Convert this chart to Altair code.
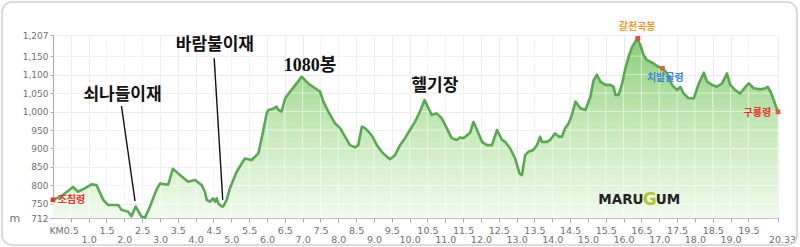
import altair as alt
import pandas as pd

# ---- elevation profile (km, m) ----
KM = [0.00, 0.25, 0.56, 0.70, 0.89, 1.08, 1.22, 1.41, 1.55, 1.83, 1.92, 2.11, 2.20, 2.32, 2.48, 2.58,
      2.72, 2.90, 3.00, 3.23, 3.36, 3.56, 3.79, 3.98, 4.17, 4.26, 4.31, 4.40, 4.49, 4.54, 4.59, 4.63,
      4.73, 4.77, 4.87, 4.96, 5.15, 5.38, 5.57, 5.76, 5.90, 5.99, 6.04, 6.13, 6.27, 6.32, 6.41, 6.51,
      6.65, 6.83, 6.97, 7.11, 7.21, 7.35, 7.49, 7.58, 7.72, 7.91, 8.05, 8.19, 8.33, 8.47, 8.56, 8.66,
      8.75, 8.89, 8.98, 9.08, 9.22, 9.36, 9.45, 9.59, 9.73, 9.87, 10.01, 10.15, 10.29, 10.42, 10.53,
      10.62, 10.76, 10.90, 11.04, 11.18, 11.32, 11.42, 11.51, 11.61, 11.70, 11.79, 11.89, 12.03, 12.17,
      12.31, 12.45, 12.59, 12.68, 12.82, 12.96, 13.08, 13.15, 13.24, 13.33, 13.47, 13.57, 13.66, 13.71,
      13.85, 13.94, 14.08, 14.18, 14.27, 14.36, 14.46, 14.55, 14.65, 14.79, 14.93, 15.07, 15.16, 15.25,
      15.35, 15.49, 15.63, 15.72, 15.77, 15.86, 15.96, 16.05, 16.14, 16.24, 16.38, 16.47, 16.56, 16.66,
      16.84, 16.98, 17.09, 17.22, 17.36, 17.50, 17.59, 17.68, 17.82, 17.97, 18.11, 18.25, 18.34, 18.48,
      18.62, 18.76, 18.90, 18.99, 19.13, 19.27, 19.42, 19.51, 19.65, 19.84, 19.98, 20.04, 20.12, 20.21,
      20.31, 20.33]
ELEV = [761, 772, 796, 783, 792, 803, 801, 761, 747, 747, 734, 729, 717, 743, 716, 713,
        743, 788, 805, 802, 845, 828, 810, 815, 801, 783, 761, 756, 765, 756, 765, 752,
        743, 743, 761, 792, 837, 873, 869, 887, 950, 995, 1004, 1006, 1013, 1004, 1000, 1036,
        1054, 1076, 1094, 1081, 1072, 1063, 1054, 1027, 1000, 968, 955, 932, 909, 903, 909, 959,
        955, 941, 928, 909, 891, 878, 871, 882, 909, 928, 950, 972, 1000, 1031, 1009,
        991, 995, 982, 955, 928, 923, 930, 928, 936, 943, 972, 950, 918, 909,
        909, 950, 923, 918, 900, 873, 833, 828, 882, 891, 896, 909, 932, 918,
        918, 923, 941, 932, 932, 955, 968, 991, 1027, 1009, 1004, 1040, 1085, 1099,
        1081, 1072, 1072, 1067, 1045, 1045, 1076, 1117, 1148, 1175, 1197, 1180, 1153, 1139,
        1130, 1121, 1117, 1103, 1072, 1058, 1067, 1049, 1036, 1036, 1076, 1105, 1081, 1072,
        1067, 1076, 1103, 1072, 1058, 1049, 1067, 1076, 1063, 1060, 1063, 1067, 1054, 1031,
        1004, 999]

# ---- axes ----
X_TICKS = [0.5, 1.0, 1.5, 2.0, 2.5, 3.0, 3.5, 4.0, 4.5, 5.0, 5.5, 6.0, 6.5, 7.0, 7.5, 8.0, 8.5, 9.0,
           9.5, 10.0, 10.5, 11.0, 11.5, 12.0, 12.5, 13.0, 13.5, 14.0, 14.5, 15.0, 15.5, 16.0, 16.5,
           17.0, 17.5, 18.0, 18.5, 19.0, 19.5, 20.33]
Y_TICKS = [712, 750, 800, 850, 900, 950, 1000, 1050, 1100, 1150, 1207]
X_MAX = 20.33

# ---- named places (dot + small coloured label) ----
PLACE_NAME = ["조침령", "갈천곡봉", "치밭골령", "구룡령"]
PLACE_KM = [0.0, 16.40, 17.09, 20.33]
PLACE_ELEV = [761, 1198, 1117, 999]
PLACE_LABEL_KM = [0.13, 16.38, 17.17, 19.75]
PLACE_LABEL_ELEV = [761, 1229, 1091, 996]
PLACE_ALIGN = ["left", "center", "center", "center"]
PLACE_COLOR = ["#e5322b", "#ef9a2e", "#3b86d6", "#e5322b"]
DOT_COLOR = ["#e5322b", "#e0503a", "#e0603a", "#e0603a"]

# ---- big annotations with leader lines ----
BIG_NAME = ["쇠나들이재", "바람불이재", "1080봉", "헬기장"]
BIG_KM = [1.95, 4.54, 7.21, 10.71]
BIG_ELEV = [1045, 1180, 1123, 1069]
BIG_SERIF = [False, False, True, False]
LEAD_KM1 = [1.92, 4.52]
LEAD_ELEV1 = [1015, 1144]
LEAD_KM2 = [2.30, 4.76]
LEAD_ELEV2 = [758, 761]

# ---- logo ----
LOGO_TEXT = ["MARU", "G", "UM"]
LOGO_KM = [16.56, 16.73, 16.90]
LOGO_ELEV = [761, 761, 761]
LOGO_ALIGN = ["right", "center", "left"]
LOGO_COLOR = ["#222222", "#b5c42a", "#222222"]
LOGO_SIZE = [13.5, 17, 13.5]

profile = pd.DataFrame({"km": KM, "elev": ELEV})

xscale = alt.Scale(domain=[0, X_MAX], nice=False, zero=False)
yscale = alt.Scale(domain=[712, 1207], nice=False, zero=False)

lower_row = "abs(datum.value - round(datum.value)) < 0.01 || datum.value > 20.1"

x_axis = alt.Axis(
    values=X_TICKS, title=None, labelOverlap=False, labelFlush=False,
    labelExpr="datum.value > 20.1 ? '20.33' : format(datum.value, '.1f')",
    labelPadding={"condition": {"test": lower_row, "value": 12}, "value": 3},
    labelOffset={"condition": {"test": "datum.value > 20.1", "value": 4}, "value": 0},
    labelFont="DejaVu Sans", labelFontSize=9.5, labelColor="#707070",
    tickSize=4, tickColor="#aaaaaa", domainColor="#aaaaaa",
    grid=True, gridColor="#e9e9e9",
)
y_axis = alt.Axis(
    values=Y_TICKS, format=",d", title="m", titleAngle=0, titleX=-44, titleY=183,
    titleAlign="left", titleBaseline="middle", titleFont="DejaVu Sans", titleFontSize=11,
    titleFontWeight="normal", titleColor="#707070",
    labelFont="DejaVu Sans", labelFontSize=9, labelColor="#707070", labelPadding=2,
    tickSize=3, tickColor="#aaaaaa", domainColor="#aaaaaa",
    grid=True, gridColor="#e9e9e9",
)


def X(field):
    return alt.X(field, scale=xscale, axis=x_axis)


def Y(field):
    return alt.Y(field, scale=yscale, axis=y_axis)


gradient = alt.Gradient(
    gradient="linear",
    stops=[alt.GradientStop(color="#f0faec", offset=0),
           alt.GradientStop(color="#c2e7b5", offset=0.55),
           alt.GradientStop(color="#8ccb7b", offset=1)],
    x1=1, x2=1, y1=1, y2=0,
)

area = alt.Chart(profile).mark_area(color=gradient).encode(
    x=X("km:Q"), y=Y("elev:Q"), y2=alt.datum(712),
)

vgrid = alt.Chart(pd.DataFrame({"km": X_TICKS})).mark_rule(
    color="white", opacity=0.55, strokeWidth=1
).encode(x=X("km:Q"))

hgrid = alt.Chart(pd.DataFrame({"elev": Y_TICKS})).mark_rule(
    color="white", opacity=0.55, strokeWidth=1
).encode(y=Y("elev:Q"))

line = alt.Chart(profile).mark_line(color="#5aa853", strokeWidth=2.6, strokeJoin="round").encode(
    x=X("km:Q"), y=Y("elev:Q"),
)

places = pd.DataFrame({
    "name": PLACE_NAME, "km": PLACE_KM, "elev": PLACE_ELEV,
    "lkm": PLACE_LABEL_KM, "lelev": PLACE_LABEL_ELEV,
    "color": PLACE_COLOR, "dot": DOT_COLOR, "align": PLACE_ALIGN,
})

dots = alt.Chart(places).mark_point(filled=True, size=22, opacity=1, shape="square").encode(
    x=X("km:Q"), y=Y("elev:Q"), color=alt.Color("dot:N", scale=None),
)

place_layers = []
for al in ["left", "center"]:
    place_layers.append(
        alt.Chart(places[places["align"] == al]).mark_text(
            align=al, baseline="middle", font="Noto Sans CJK KR", fontSize=10, fontWeight="bold"
        ).encode(
            x=X("lkm:Q"), y=Y("lelev:Q"),
            text="name:N", color=alt.Color("color:N", scale=None),
        )
    )

big = pd.DataFrame({"name": BIG_NAME, "km": BIG_KM, "elev": BIG_ELEV, "serif": BIG_SERIF})
big_sans = alt.Chart(big[~big["serif"]]).mark_text(
    align="center", baseline="middle", font="Noto Sans CJK KR", fontSize=17, fontWeight="bold",
    color="#111111"
).encode(x=X("km:Q"), y=Y("elev:Q"), text="name:N")
big_serif = alt.Chart(big[big["serif"]]).mark_text(
    align="center", baseline="middle", font="Liberation Serif, Noto Sans CJK KR", fontSize=18,
    fontWeight="bold", color="#111111"
).encode(x=X("km:Q"), y=Y("elev:Q"), text="name:N")

leads = pd.DataFrame({"k1": LEAD_KM1, "e1": LEAD_ELEV1, "k2": LEAD_KM2, "e2": LEAD_ELEV2})
leaders = alt.Chart(leads).mark_rule(color="#111111", strokeWidth=1.4).encode(
    x=X("k1:Q"), x2="k2:Q", y=Y("e1:Q"), y2="e2:Q",
)

logo = pd.DataFrame({"t": LOGO_TEXT, "km": LOGO_KM, "elev": LOGO_ELEV,
                     "align": LOGO_ALIGN, "color": LOGO_COLOR, "size": LOGO_SIZE})
logo_layers = []
for al in ["right", "center", "left"]:
    sub = logo[logo["align"] == al]
    logo_layers.append(
        alt.Chart(sub).mark_text(
            align=al, baseline="middle", font="DejaVu Sans", fontSize=float(sub["size"].iloc[0]),
            fontWeight="bold"
        ).encode(
            x=X("km:Q"), y=Y("elev:Q"),
            text="t:N", color=alt.Color("color:N", scale=None),
        )
    )

km_label = alt.Chart(pd.DataFrame({"km": [0.5], "t": ["KM"]})).mark_text(
    align="right", baseline="middle", font="DejaVu Sans", fontSize=9.5, color="#707070", dx=-7
).encode(x=X("km:Q"), y=alt.value(196), text="t:N")

frame = alt.Chart(pd.DataFrame({"a": [0]})).mark_rect(
    fillOpacity=0, stroke="#cfcfcf", strokeWidth=1.5, cornerRadius=10
).encode(
    x=alt.value(-51), x2=alt.value(744), y=alt.value(-33), y2=alt.value(210),
)

chart = alt.layer(
    area, vgrid, hgrid, line, leaders, dots, *place_layers,
    big_sans, big_serif, *logo_layers, km_label, frame
).properties(
    width=725, height=183,
    autosize=alt.AutoSizeParams(type="none"),
    padding={"left": 53, "top": 35, "right": 22, "bottom": 29},
    background="white",
).configure_view(strokeWidth=0)

chart.save("out.html", embed_options={"renderer": "svg", "actions": False})
